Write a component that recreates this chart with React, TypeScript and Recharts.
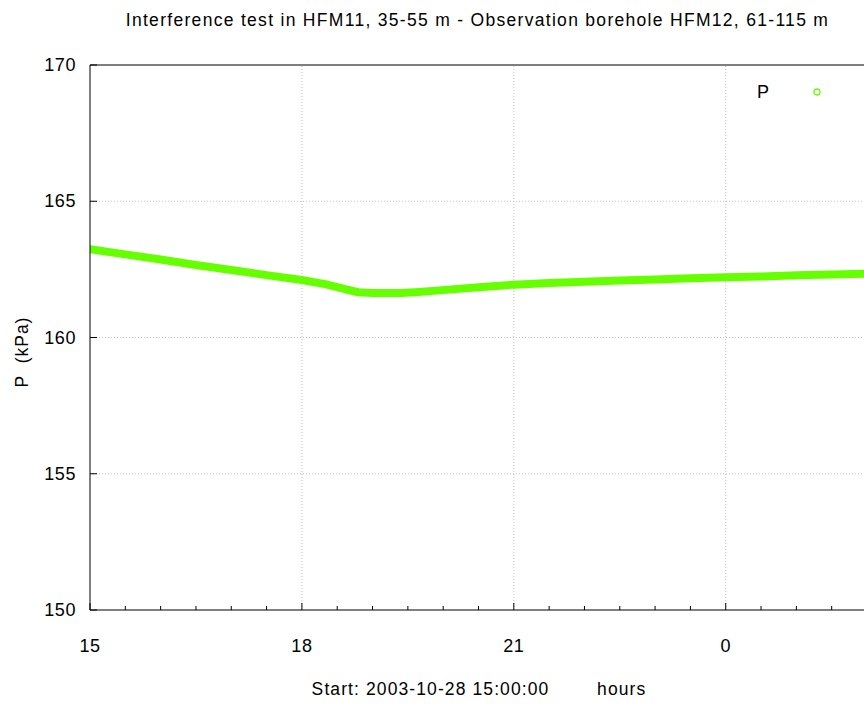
import React from "react";
import { LineChart, Line, XAxis, YAxis, ReferenceLine } from "recharts";

const hours = [15.0, 15.5, 16.0, 16.5, 17.0, 17.5, 18.0, 18.33, 18.6, 18.8, 19.0, 19.4, 19.6, 19.9, 20.5, 21.0, 21.5, 22.0, 22.5, 23.0, 23.5, 24.0, 24.5, 25.0, 25.5, 26.0];
const pressure = [163.24, 163.05, 162.86, 162.66, 162.48, 162.29, 162.11, 161.96, 161.78, 161.66, 161.63, 161.63, 161.66, 161.72, 161.84, 161.94, 162.0, 162.05, 162.09, 162.13, 162.17, 162.21, 162.24, 162.28, 162.31, 162.34];

const xTicks = [15, 15.5, 16, 16.5, 17, 17.5, 18, 18.5, 19, 19.5, 20, 20.5, 21, 21.5, 22, 22.5, 23, 23.5, 24, 24.5, 25, 25.5, 26];
const xMajor = [15, 18, 21, 24];
const xMajorLabels = ["15", "18", "21", "0"];
const yTicks = [150, 155, 160, 165, 170];
const yGrid = [155, 160, 165];
const xGrid = [18, 21, 24];

const title = "Interference test in HFM11, 35-55 m - Observation borehole HFM12, 61-115 m";
const xLabel = "Start: 2003-10-28 15:00:00        hours";
const yLabel = "P  (kPa)";
const seriesName = "P";
const green = "#66ff00";
const FONT = "'Liberation Sans', Arial, Helvetica, sans-serif";

const data = hours.map((h, i) => ({ h, p: pressure[i] }));

const XTick = (props: any) => {
  const { x, y, payload } = props;
  const idx = xMajor.indexOf(payload.value);
  const major = idx >= 0;
  return (
    <g>
      <line x1={x} x2={x} y1={y} y2={y - (major ? 7 : 4)} stroke="#000" strokeWidth={1} />
      {major && (
        <text x={x} y={y + 42} textAnchor="middle" fontSize={18} fontFamily={FONT} fill="#000" letterSpacing={0.6}>
          {xMajorLabels[idx]}
        </text>
      )}
    </g>
  );
};

const YTick = (props: any) => {
  const { x, y, payload } = props;
  return (
    <g>
      <line x1={x} x2={x + 7} y1={y} y2={y} stroke="#000" strokeWidth={1} />
      <text x={x - 14} y={y + 6} textAnchor="end" fontSize={18} fontFamily={FONT} fill="#000" letterSpacing={0.6}>
        {payload.value}
      </text>
    </g>
  );
};

export default function App() {
  return (
    <div style={{ position: "fixed", left: 0, top: 0, width: 864, height: 706, overflow: "hidden", background: "#fff" }}>
      <div style={{ position: "absolute", left: 0, top: 10, width: 955, textAlign: "center", fontFamily: FONT, fontSize: 17.5, letterSpacing: 1.3, whiteSpace: "pre" }}>
        {title}
      </div>
      <div style={{ position: "absolute", left: 0, top: 679, width: 958, textAlign: "center", fontFamily: FONT, fontSize: 17.5, letterSpacing: 1.1, whiteSpace: "pre" }}>
        {xLabel}
      </div>
      <div style={{ position: "absolute", left: 22, top: 352, transform: "translate(-50%, -50%) rotate(-90deg)", fontFamily: FONT, fontSize: 17.5, letterSpacing: 1.0, whiteSpace: "pre" }}>
        {yLabel}
      </div>
      <div style={{ position: "absolute", left: 757, top: 81, fontFamily: FONT, fontSize: 18, whiteSpace: "pre", lineHeight: "22px" }}>
        {seriesName}
      </div>
      <svg style={{ position: "absolute", left: 810, top: 86 }} width={14} height={14}>
        <circle cx={7} cy={6} r={3} fill="none" stroke={green} strokeWidth={1.3} />
      </svg>
      <div style={{ position: "absolute", left: 0, top: 0 }}>
        <LineChart width={900} height={706} data={data} margin={{ top: 65, right: 33, bottom: 36, left: 0 }}>
          <XAxis
            dataKey="h"
            type="number"
            domain={[15, 26]}
            ticks={xTicks}
            interval={0}
            axisLine={{ stroke: "#000", strokeWidth: 1 }}
            tickLine={false}
            tickSize={0}
            tickMargin={0}
            tick={<XTick />}
            height={60}
            allowDataOverflow
          />
          <YAxis
            type="number"
            domain={[150, 170]}
            ticks={yTicks}
            interval={0}
            width={90}
            axisLine={{ stroke: "#000", strokeWidth: 1 }}
            tickLine={false}
            tickSize={0}
            tickMargin={0}
            tick={<YTick />}
            allowDataOverflow
          />
          {yGrid.map((v) => (
            <ReferenceLine key={"y" + v} y={v} stroke="#c0c0c0" strokeDasharray="1 2" strokeWidth={1} />
          ))}
          {xGrid.map((v) => (
            <ReferenceLine key={"x" + v} x={v} stroke="#c0c0c0" strokeDasharray="1 2" strokeWidth={1} />
          ))}
          <ReferenceLine y={170} stroke="#000" strokeWidth={1} />
          <Line
            dataKey="p"
            name={seriesName}
            stroke={green}
            strokeWidth={8}
            strokeLinecap="round"
            strokeLinejoin="round"
            dot={false}
            isAnimationActive={false}
          />
        </LineChart>
      </div>
    </div>
  );
}
